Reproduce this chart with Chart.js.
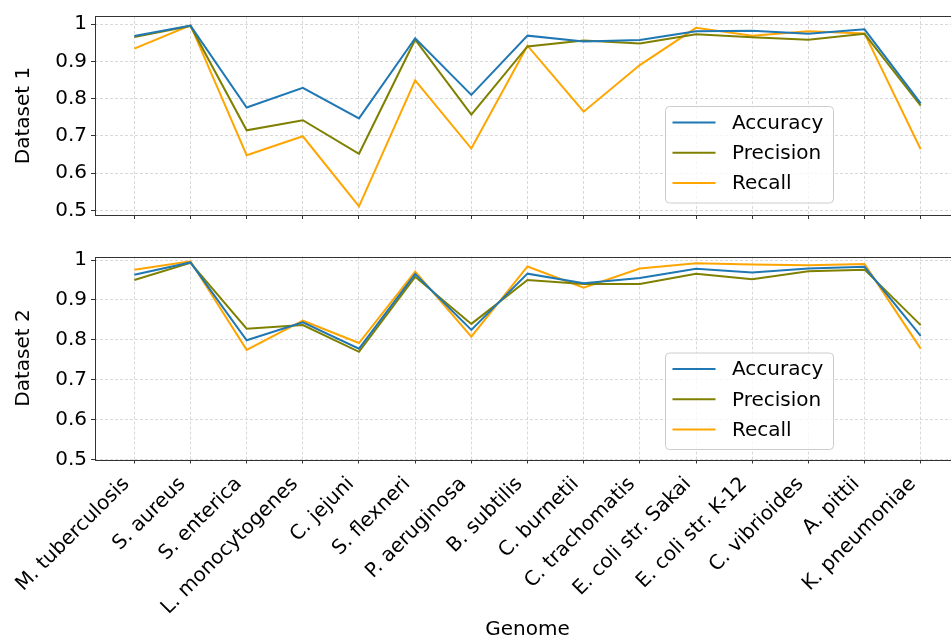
<!DOCTYPE html>
<html>
<head>
<meta charset="utf-8">
<script src="https://cdn.jsdelivr.net/npm/chart.js@4.4.1/dist/chart.umd.min.js"></script>
<style>
  html, body { margin: 0; padding: 0; background: #fff; overflow: hidden; }
  #wrap { position: relative; width: 951px; height: 642px; overflow: hidden; background: #fff; }
  canvas { position: absolute; left: 0; }
  #top { top: 0; }
  #bottom { top: 240px; }
</style>
</head>
<body>
<div id="wrap">
  <canvas id="top" width="960" height="240"></canvas>
  <canvas id="bottom" width="960" height="402"></canvas>
</div>
<script>
// Genomes along the shared x axis
const genomes = [
  'M. tuberculosis', 'S. aureus', 'S. enterica', 'L. monocytogenes', 'C. jejuni',
  'S. flexneri', 'P. aeruginosa', 'B. subtilis', 'C. burnetii', 'C. trachomatis',
  'E. coli str. Sakai', 'E. coli str. K-12', 'C. vibrioides', 'A. pittii', 'K. pneumoniae'
];

// Dataset 1 scores
const d1Accuracy  = [0.968, 0.996, 0.776, 0.829, 0.747, 0.962, 0.810, 0.969, 0.953, 0.957, 0.981, 0.982, 0.974, 0.986, 0.787];
const d1Precision = [0.965, 0.995, 0.715, 0.742, 0.652, 0.958, 0.757, 0.940, 0.956, 0.948, 0.973, 0.965, 0.958, 0.974, 0.781];
const d1Recall    = [0.934, 0.997, 0.648, 0.699, 0.511, 0.849, 0.666, 0.942, 0.765, 0.890, 0.990, 0.969, 0.981, 0.975, 0.664];

// Dataset 2 scores
const d2Accuracy  = [0.963, 0.994, 0.799, 0.844, 0.778, 0.965, 0.825, 0.966, 0.942, 0.955, 0.978, 0.969, 0.979, 0.983, 0.810];
const d2Precision = [0.950, 0.993, 0.828, 0.837, 0.770, 0.958, 0.840, 0.950, 0.940, 0.940, 0.966, 0.952, 0.972, 0.976, 0.837];
const d2Recall    = [0.976, 0.997, 0.775, 0.848, 0.792, 0.971, 0.808, 0.984, 0.931, 0.979, 0.992, 0.989, 0.987, 0.990, 0.778];

// Y tick values shared by both panels
const yTicks = [0.5, 0.6, 0.7, 0.8, 0.9, 1.0];

const seriesNames = ['Accuracy', 'Precision', 'Recall'];
const seriesColors = ['#1f77b4', '#808000', '#ffa500'];

const FONT = 'DejaVu Sans';
const GRID = '#cfcfcf';
const FRAME = '#333333';

function points(values) {
  return values.map((v, i) => ({ x: i, y: v }));
}

function makeDatasets(series) {
  return series.map((vals, k) => ({
    label: seriesNames[k],
    data: points(vals),
    borderColor: seriesColors[k],
    backgroundColor: seriesColors[k],
    borderWidth: 2,
    pointRadius: 0,
    pointHoverRadius: 0,
    tension: 0,
    fill: false
  }));
}

// Full rectangular frame around the plotting area
const framePlugin = {
  id: 'frame',
  afterDatasetsDraw(chart) {
    const { ctx, chartArea: a } = chart;
    ctx.save();
    ctx.strokeStyle = FRAME;
    ctx.lineWidth = 1;
    ctx.strokeRect(Math.round(a.left) + 0.5, Math.round(a.top) + 0.5,
                   Math.round(a.right - a.left), Math.round(a.bottom - a.top));
    ctx.restore();
  }
};

// Boxed legend placed inside the plotting area
const boxLegendPlugin = {
  id: 'boxLegend',
  afterDraw(chart, args, opts) {
    const { ctx } = chart;
    const x = opts.left, y = opts.top, w = opts.width, h = opts.height;
    ctx.save();
    ctx.beginPath();
    ctx.roundRect(x + 0.5, y + 0.5, w, h, 4);
    ctx.fillStyle = 'rgba(255,255,255,0.8)';
    ctx.fill();
    ctx.strokeStyle = '#cccccc';
    ctx.lineWidth = 1;
    ctx.stroke();
    ctx.font = '20px "' + FONT + '"';
    ctx.textBaseline = 'middle';
    ctx.textAlign = 'left';
    chart.data.datasets.forEach((ds, i) => {
      const cy = y + 16.5 + i * 30.3;
      ctx.beginPath();
      ctx.moveTo(x + 7.5, cy);
      ctx.lineTo(x + 50.5, cy);
      ctx.strokeStyle = ds.borderColor;
      ctx.lineWidth = 2;
      ctx.stroke();
      ctx.fillStyle = '#000';
      ctx.fillText(ds.label, x + 67, cy + 1);
    });
    ctx.restore();
  }
};

function buildChart(canvasId, series, cfg) {
  return new Chart(document.getElementById(canvasId), {
    type: 'line',
    data: { datasets: makeDatasets(series) },
    options: {
      responsive: false,
      animation: false,
      events: [],
      layout: { padding: { top: cfg.padTop, left: 0, right: 0, bottom: 0 } },
      plugins: {
        legend: { display: false },
        tooltip: { enabled: false },
        boxLegend: cfg.legend
      },
      scales: {
        x: {
          type: 'linear',
          min: -0.7,
          max: genomes.length - 1 + 0.7,
          afterBuildTicks: s => { s.ticks = genomes.map((_, i) => ({ value: i })); },
          afterFit: s => { s.height = cfg.xHeight; },
          grid: {
            color: GRID, lineWidth: 0.8, drawTicks: true, tickLength: 4,
            tickColor: FRAME, tickWidth: 1, tickBorderDash: []
          },
          border: { display: false, dash: [3, 2] },
          ticks: {
            display: cfg.showXLabels,
            autoSkip: false,
            minRotation: 45,
            maxRotation: 45,
            padding: cfg.xPad,
            labelOffset: cfg.xLabelOffset,
            color: '#000',
            font: { family: FONT, size: 20 },
            callback: v => genomes[v]
          },
          title: {
            display: cfg.showXLabels,
            text: 'Genome',
            color: '#000',
            font: { family: FONT, size: 20 },
            padding: { top: 0, bottom: 0 }
          }
        },
        y: {
          min: cfg.yMin,
          max: cfg.yMax,
          afterBuildTicks: s => { s.ticks = yTicks.map(v => ({ value: v })); },
          afterFit: s => { s.width = 95; },
          grid: {
            color: GRID, lineWidth: 0.8, drawTicks: true, tickLength: 4,
            tickColor: FRAME, tickWidth: 1, tickBorderDash: []
          },
          border: { display: false, dash: [3, 2] },
          ticks: {
            padding: 4,
            color: '#000',
            font: { family: FONT, size: 20 },
            callback: v => (v === 1 ? '1' : v.toFixed(1))
          },
          title: {
            display: true,
            text: cfg.yTitle,
            color: '#000',
            font: { family: FONT, size: 20 },
            padding: { top: 12, bottom: 0 }
          }
        }
      }
    },
    plugins: [framePlugin, boxLegendPlugin]
  });
}

buildChart('top', [d1Accuracy, d1Precision, d1Recall], {
  padTop: 11, xHeight: 25, showXLabels: false, xPad: 4, xLabelOffset: 0,
  yMin: 0.4877, yMax: 1.0217, yTitle: 'Dataset 1',
  legend: { left: 665, top: 106, width: 168, height: 96.5 }
});

buildChart('bottom', [d2Accuracy, d2Precision, d2Recall], {
  padTop: 16.5, xHeight: 182.5, showXLabels: true, xPad: 9, xLabelOffset: -8,
  yMin: 0.5, yMax: 1.009, yTitle: 'Dataset 2',
  legend: { left: 665, top: 112.5, width: 168, height: 96.5 }
});
</script>
</body>
</html>
